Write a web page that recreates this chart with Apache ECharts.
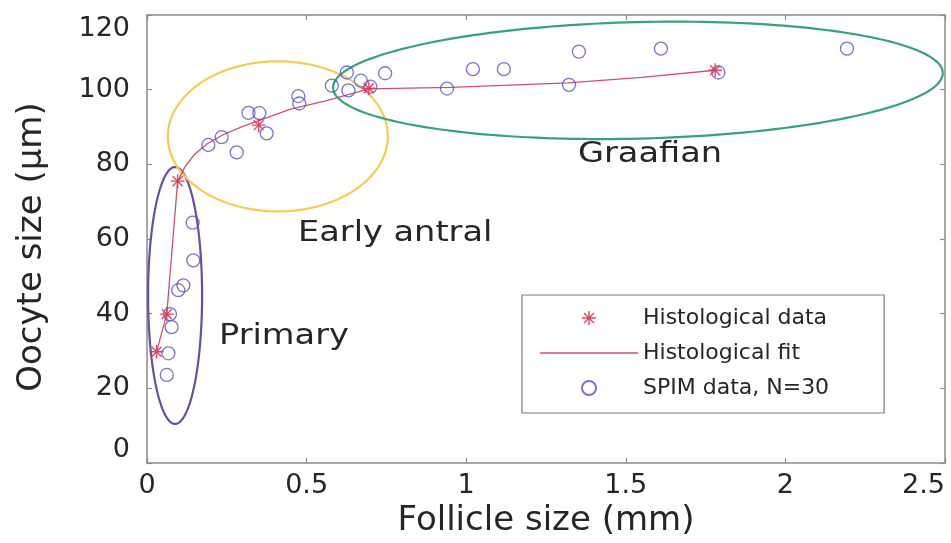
<!DOCTYPE html>
<html>
<head>
<meta charset="utf-8">
<script src="https://cdn.jsdelivr.net/npm/echarts@6/dist/echarts.min.js"></script>
<style>html,body{margin:0;padding:0;background:#fff}#c{width:951px;height:543px}</style>
</head>
<body>
<div id="c"></div>
<script>
// ---- data ----
const histX = [0.03, 0.062, 0.096, 0.35, 0.695, 1.78];
const histY = [29.8, 39.9, 75.5, 90.5, 100.4, 105.2];

const fitX = [0.03, 0.062, 0.096, 0.12, 0.15, 0.19, 0.24, 0.30, 0.35, 0.45, 0.56, 0.695, 0.95, 1.32, 1.55, 1.78];
const fitY = [29.8, 39.9, 75.5, 79.5, 82.8, 85.6, 88.0, 90.2, 91.7, 94.8, 97.0, 100.2, 100.6, 101.8, 103.3, 105.2];

const spimX = [0.143, 0.145, 0.114, 0.098, 0.072, 0.077, 0.067, 0.062,
  0.192, 0.234, 0.281, 0.318, 0.352, 0.375, 0.474, 0.477,
  0.579, 0.626, 0.631, 0.670, 0.746, 0.700,
  0.940, 1.021, 1.118, 1.322, 1.353, 1.610, 2.193, 1.790];
const spimY = [64.4, 54.3, 47.6, 46.3, 39.9, 36.4, 29.4, 23.6,
  85.2, 87.3, 83.2, 93.8, 93.7, 88.3, 98.3, 96.3,
  101.1, 104.6, 99.8, 102.4, 104.4, 100.8,
  100.3, 105.5, 105.5, 101.3, 110.2, 111.0, 111.0, 104.6];

// stage ellipses (annotation): centre x, centre y, half-width, half-height (data units), tilt (rad)
const stageNames = ['Primary', 'Early antral', 'Graafian'];
const ellCx = [0.088, 0.41, 1.538];
const ellCy = [44.9, 87.5, 102.5];
const ellRx = [0.0846, 0.3446, 0.9555];
const ellRy = [34.4, 20.1, 15.6];
const ellTilt = [0, 0, 0.0246];

const xTickLabels = ['0', '0.5', '1', '1.5', '2', '2.5'];
const yTickLabels = ['0', '20', '40', '60', '80', '100', '120'];

const seriesNames = ['Histological data', 'Histological fit', 'SPIM data, N=30'];

// ---- styles ----
const ellColors = ['#6a4ea4', '#f1cd52', '#36a27c'];
const axisColor = '#8a8a8a';
const textColor = '#262626';
const FONT = 'DejaVu Sans';

const chart = echarts.init(document.getElementById('c'), null, {renderer: 'canvas'});

const histData = histX.map((x, i) => [x, histY[i]]);
const fitData = fitX.map((x, i) => [x, fitY[i]]);
const spimData = spimX.map((x, i) => [x, spimY[i]]);
const ellData = ellCx.map((x, i) => [x, ellCy[i], ellRx[i], ellRy[i], ellTilt[i]]);

function renderEllipse(params, api) {
  const c = api.coord([api.value(0), api.value(1)]);
  const s = api.size([api.value(2), api.value(3)]);
  const a = api.value(4);
  const pts = [];
  const n = 200;
  for (let i = 0; i <= n; i++) {
    const t = i / n * Math.PI * 2;
    const ex = s[0] * Math.cos(t), ey = s[1] * Math.sin(t);
    pts.push([c[0] + ex * Math.cos(a) + ey * Math.sin(a), c[1] - ex * Math.sin(a) + ey * Math.cos(a)]);
  }
  return {type: 'polyline', shape: {points: pts}, style: {fill: null, stroke: ellColors[params.dataIndex], lineWidth: 2.2}};
}

const starPath = 'path://M-1 -10L1 -10L1 10L-1 10Z M-10 -1L10 -1L10 1L-10 1Z M-7.8 -6.4L-6.4 -7.8L7.8 6.4L6.4 7.8Z M6.4 -7.8L7.8 -6.4L-6.4 7.8L-7.8 6.4Z';
const lineIcon = 'path://M0 0L100 0L100 1.4L0 1.4Z';

const commonAxisLine = {show: true, onZero: false, lineStyle: {color: axisColor, width: 1.5}};
const commonTick = {show: true, inside: true, length: 5, lineStyle: {color: axisColor, width: 1.2}};

chart.setOption({
  animation: false,
  backgroundColor: '#ffffff',
  grid: {left: 147, right: 6, top: 15, bottom: 71, containLabel: false},
  xAxis: [{
    type: 'value', min: 0, max: 2.5, interval: 0.5, position: 'bottom',
    axisLine: commonAxisLine, axisTick: commonTick, splitLine: {show: false},
    axisLabel: {fontFamily: FONT, fontSize: 27, color: textColor, margin: 9, alignMaxLabel: 'right',
      formatter: v => xTickLabels[Math.round(v / 0.5)]},
    name: 'Follicle size (mm)', nameLocation: 'middle', nameGap: 34,
    nameTextStyle: {fontFamily: FONT, fontSize: 34, color: textColor}
  }, {
    type: 'value', min: 0, max: 2.5, interval: 0.5, position: 'top',
    axisLine: commonAxisLine, axisTick: commonTick, splitLine: {show: false}, axisLabel: {show: false}
  }],
  yAxis: [{
    type: 'value', min: 0, max: 120, interval: 20, position: 'left',
    axisLine: commonAxisLine, axisTick: commonTick, splitLine: {show: false},
    axisLabel: {fontFamily: FONT, fontSize: 27, color: textColor, margin: 17,
      verticalAlignMinLabel: 'bottom', verticalAlignMaxLabel: 'top',
      formatter: v => yTickLabels[Math.round(v / 20)]},
    name: 'Oocyte size (\u03bcm)', nameLocation: 'middle', nameGap: 98,
    nameTextStyle: {fontFamily: FONT, fontSize: 34, color: textColor, padding: [0, 16, 0, 0]}
  }, {
    type: 'value', min: 0, max: 120, interval: 20, position: 'right',
    axisLine: commonAxisLine, axisTick: commonTick, splitLine: {show: false}, axisLabel: {show: false}
  }],
  legend: {
    data: [
      {name: seriesNames[0]},
      {name: seriesNames[1], icon: lineIcon},
      {name: seriesNames[2]}
    ],
    orient: 'vertical', left: 522, top: 295, symbolKeepAspect: true,
    padding: [12, 55, 14, 18], itemGap: 13, itemWidth: 98, itemHeight: 14,
    borderColor: '#7a7a7a', borderWidth: 1.2, backgroundColor: '#ffffff', borderRadius: 0,
    textStyle: {fontFamily: FONT, fontSize: 22, color: textColor}
  },
  graphic: [
    {type: 'text', left: 219, top: 323, scaleX: 1.2, style: {text: stageNames[0], fontFamily: FONT, fontSize: 28, fill: textColor}},
    {type: 'text', left: 298, top: 220, scaleX: 1.2, style: {text: stageNames[1], fontFamily: FONT, fontSize: 28, fill: textColor}},
    {type: 'text', left: 578, top: 141, scaleX: 1.2, style: {text: stageNames[2], fontFamily: FONT, fontSize: 28, fill: textColor}}
  ],
  series: [
    {
      name: 'stages', type: 'custom', renderItem: renderEllipse, data: ellData,
      encode: {x: 0, y: 1}, z: 1, silent: true, clip: false
    },
    {
      name: seriesNames[1], type: 'line', data: fitData, smooth: false, symbol: 'none', showSymbol: false, z: 2,
      lineStyle: {color: '#d0506c', width: 1.3}, itemStyle: {color: '#d0506c'}
    },
    {
      name: seriesNames[0], type: 'scatter', data: histData, symbol: starPath, symbolSize: 14,
      symbolKeepAspect: true, z: 4, itemStyle: {color: '#dc3456', opacity: 0.9}
    },
    {
      name: seriesNames[2], type: 'scatter', data: spimData, symbol: 'circle', symbolSize: 13, z: 3,
      itemStyle: {color: 'rgba(255,255,255,0)', borderColor: '#5552c4', borderWidth: 1.3}
    }
  ]
});
</script>
</body>
</html>
